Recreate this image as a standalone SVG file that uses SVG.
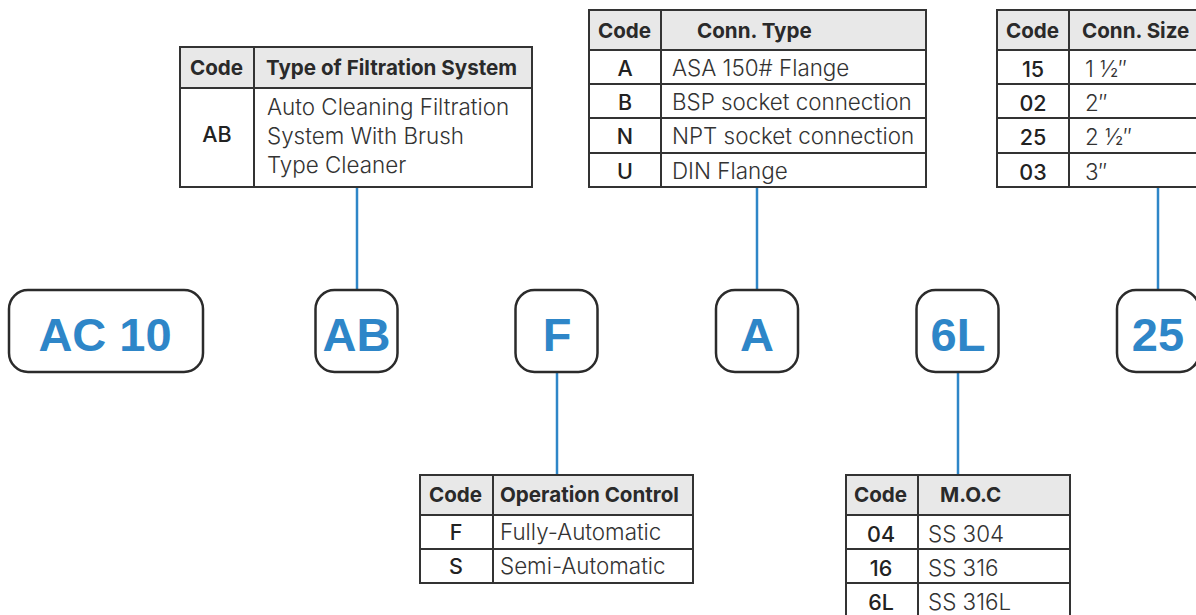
<svg xmlns="http://www.w3.org/2000/svg" width="1196" height="615" viewBox="0 0 1196 615">
<style>
.node rect{fill:#fff;stroke:#2b2b2b;stroke-width:2.5}
.node text{font-family:"Liberation Sans",Arial,sans-serif;font-weight:bold;font-size:47px;fill:#2e86c8;text-anchor:middle}
.conn line{stroke:#2e86c8;stroke-width:2.5}
.tbl .hd{fill:#e8e8e8}
.tbl .frame{fill:none;stroke:#333;stroke-width:2}
.tbl line{stroke:#333;stroke-width:2}
.tbl .h{font-family:Inter,"Liberation Sans",sans-serif;font-weight:bold;font-size:20.6px;fill:#2a2a2a}
.tbl .c{font-family:Inter,"Liberation Sans",sans-serif;font-weight:500;font-size:21.5px;fill:#222;text-anchor:middle}
.tbl .t{font-family:Inter,"Liberation Sans",sans-serif;font-weight:300;font-size:22.4px;fill:#333}
</style>
<rect width="1196" height="615" fill="#fff"/>
<g id="connectors" class="conn">
<line x1="357" y1="187" x2="357" y2="290"/>
<line x1="757" y1="187" x2="757" y2="290"/>
<line x1="1158" y1="187" x2="1158" y2="290"/>
<line x1="557" y1="371" x2="557" y2="475"/>
<line x1="958" y1="371" x2="958" y2="475"/>
</g>
<g id="node-ac10" class="node"><rect x="9" y="290" width="194" height="82" rx="19"/><text x="105" y="351">AC 10</text></g>
<g id="node-ab" class="node"><rect x="315.5" y="290" width="82" height="82" rx="19"/><text x="356.5" y="351">AB</text></g>
<g id="node-f" class="node"><rect x="515.5" y="290" width="82" height="82" rx="19"/><text x="557" y="351">F</text></g>
<g id="node-a" class="node"><rect x="716" y="290" width="82" height="82" rx="19"/><text x="757" y="351">A</text></g>
<g id="node-6l" class="node"><rect x="916.5" y="290" width="82" height="82" rx="19"/><text x="958" y="351">6L</text></g>
<g id="node-25" class="node"><rect x="1117" y="290" width="82" height="82" rx="19"/><text x="1158" y="351">25</text></g>

<g id="table-filtration" class="tbl">
<rect class="hd" x="180" y="47" width="352" height="41"/>
<rect class="frame" x="180" y="47" width="352" height="140"/>
<line x1="180" y1="88" x2="532" y2="88"/>
<line x1="254" y1="47" x2="254" y2="187"/>
<text class="h" x="190" y="75">Code</text>
<text class="h" x="266" y="75">Type of Filtration System</text>
<text class="c" x="217" y="142">AB</text>
<text class="t" x="267" y="115">Auto Cleaning Filtration</text>
<text class="t" x="267" y="144">System With Brush</text>
<text class="t" x="267" y="173">Type Cleaner</text>
</g>

<g id="table-conn-type" class="tbl">
<rect class="hd" x="589" y="10" width="337" height="40"/>
<rect class="frame" x="589" y="10" width="337" height="177"/>
<line x1="589" y1="50" x2="926" y2="50"/>
<line x1="589" y1="84" x2="926" y2="84"/>
<line x1="589" y1="118" x2="926" y2="118"/>
<line x1="589" y1="153" x2="926" y2="153"/>
<line x1="661" y1="10" x2="661" y2="187"/>
<text class="h" x="598" y="38">Code</text>
<text class="h" x="697" y="38">Conn. Type</text>
<text class="c" x="625" y="76">A</text><text class="t" x="672" y="76">ASA 150# Flange</text>
<text class="c" x="625" y="110">B</text><text class="t" x="672" y="110">BSP socket connection</text>
<text class="c" x="625" y="144">N</text><text class="t" x="672" y="144">NPT socket connection</text>
<text class="c" x="625" y="179">U</text><text class="t" x="672" y="179">DIN Flange</text>
</g>

<g id="table-conn-size" class="tbl">
<rect class="hd" x="997" y="10" width="210" height="40"/>
<rect class="frame" x="997" y="10" width="210" height="177"/>
<line x1="997" y1="50" x2="1207" y2="50"/>
<line x1="997" y1="84" x2="1207" y2="84"/>
<line x1="997" y1="118" x2="1207" y2="118"/>
<line x1="997" y1="153" x2="1207" y2="153"/>
<line x1="1069" y1="10" x2="1069" y2="187"/>
<text class="h" x="1006" y="38">Code</text>
<text class="h" x="1082" y="38">Conn. Size</text>
<text class="c" x="1033" y="77">15</text><text class="t" x="1085" y="77">1 ½″</text>
<text class="c" x="1033" y="111">02</text><text class="t" x="1085" y="111">2″</text>
<text class="c" x="1033" y="145">25</text><text class="t" x="1085" y="145">2 ½″</text>
<text class="c" x="1033" y="180">03</text><text class="t" x="1085" y="180">3″</text>
</g>

<g id="table-operation" class="tbl">
<rect class="hd" x="420" y="475" width="273" height="40"/>
<rect class="frame" x="420" y="475" width="273" height="108"/>
<line x1="420" y1="515" x2="693" y2="515"/>
<line x1="420" y1="549" x2="693" y2="549"/>
<line x1="493" y1="475" x2="493" y2="583"/>
<text class="h" x="429" y="502">Code</text>
<text class="h" x="500" y="502">Operation Control</text>
<text class="c" x="456" y="540">F</text><text class="t" x="500" y="540">Fully-Automatic</text>
<text class="c" x="456" y="574">S</text><text class="t" x="500" y="574">Semi-Automatic</text>
</g>

<g id="table-moc" class="tbl">
<rect class="hd" x="846" y="475" width="224" height="40"/>
<rect class="frame" x="846" y="475" width="224" height="150"/>
<line x1="846" y1="515" x2="1070" y2="515"/>
<line x1="846" y1="549" x2="1070" y2="549"/>
<line x1="846" y1="583" x2="1070" y2="583"/>
<line x1="918" y1="475" x2="918" y2="625"/>
<text class="h" x="854" y="502">Code</text>
<text class="h" x="940" y="502">M.O.C</text>
<text class="c" x="881" y="542">04</text><text class="t" x="928" y="542">SS 304</text>
<text class="c" x="881" y="576">16</text><text class="t" x="928" y="576">SS 316</text>
<text class="c" x="881" y="610">6L</text><text class="t" x="928" y="610">SS 316L</text>
</g>
</svg>
